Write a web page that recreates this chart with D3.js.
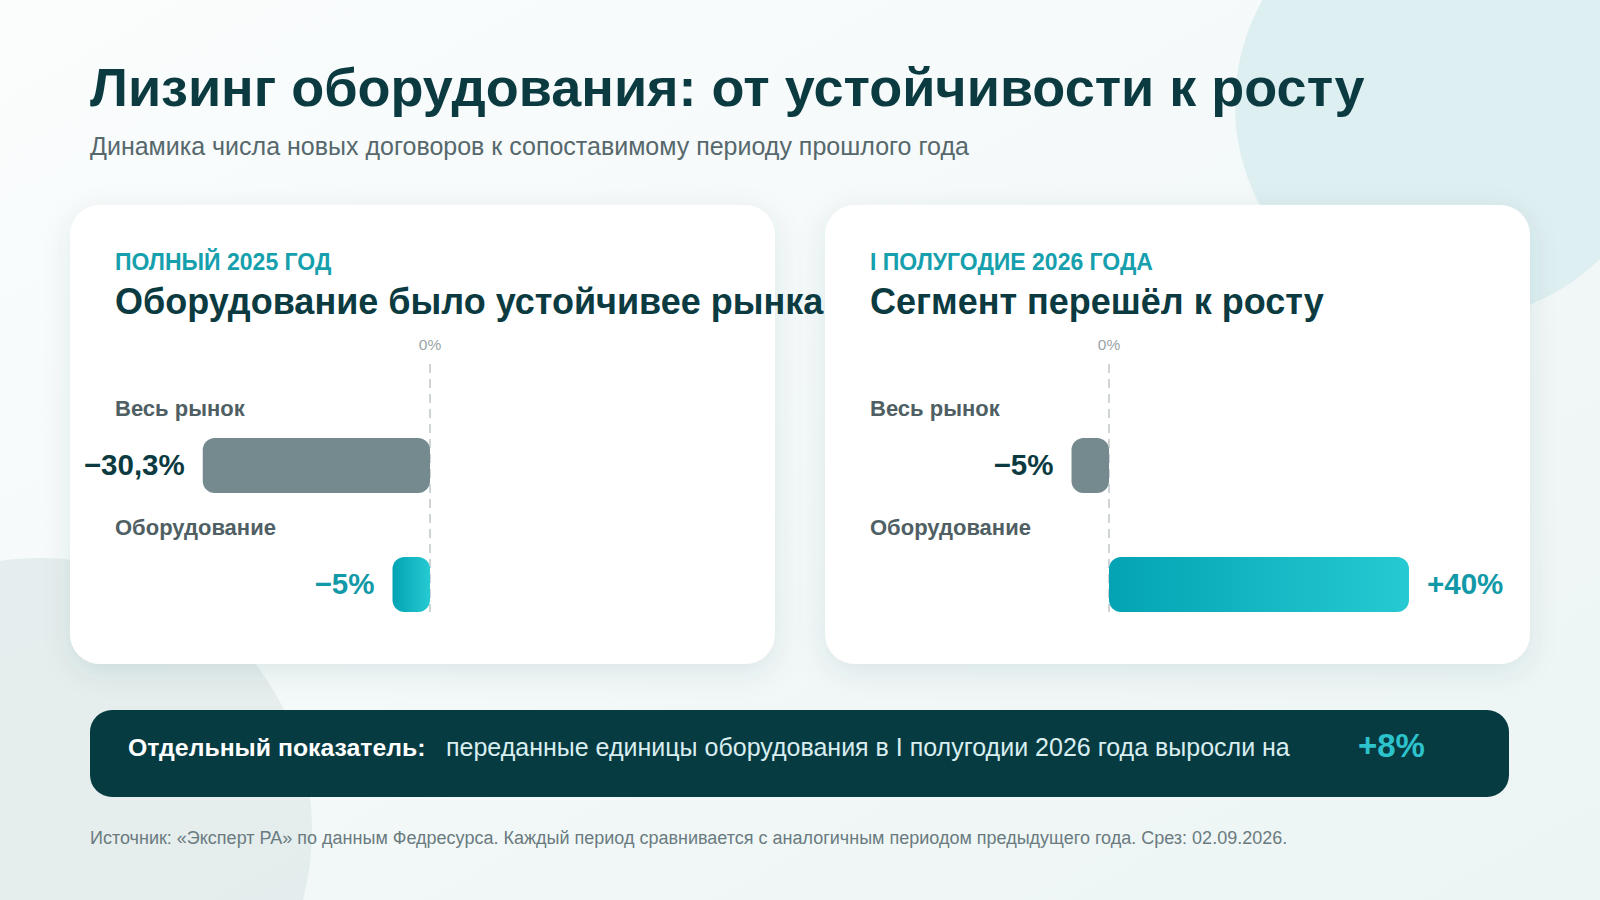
<!DOCTYPE html>
<html><head><meta charset="utf-8">
<script src="https://cdn.jsdelivr.net/npm/d3@7"></script>
<style>
html,body{margin:0;padding:0;background:#f3f8f8;}
svg{display:block;font-family:"Liberation Sans",Arial,sans-serif;}
</style></head>
<body><svg id="c" width="1600" height="900"></svg>
<script>
// ---- data ----
const title = "Лизинг оборудования: от устойчивости к росту";
const subtitle = "Динамика числа новых договоров к сопоставимому периоду прошлого года";
const panelPeriods = ["ПОЛНЫЙ 2025 ГОД", "I ПОЛУГОДИЕ 2026 ГОДА"];
const panelHeadings = ["Оборудование было устойчивее рынка", "Сегмент перешёл к росту"];
const categories = ["Весь рынок", "Оборудование"];
const values2025 = [-30.3, -5];
const values2026H1 = [-5, 40];
const zeroTickLabel = ["0%"];
const bannerLead = "Отдельный показатель:";
const bannerText = "переданные единицы оборудования в I полугодии 2026 года выросли на";
const bannerValue = [8];
const source = "Источник: «Эксперт РА» по данным Федресурса. Каждый период сравнивается с аналогичным периодом предыдущего года. Срез: 02.09.2026.";

const fmt = v => (v < 0 ? "\u2212" : "+") + String(Math.abs(v)).replace(".", ",") + "%";

const svg = d3.select("#c");
const defs = svg.append("defs");

// background
const bg = defs.append("linearGradient").attr("id","bg").attr("x1",0).attr("y1",0).attr("x2",1).attr("y2",1);
bg.append("stop").attr("offset",0).attr("stop-color","#fbfdfd");
bg.append("stop").attr("offset",1).attr("stop-color","#ecf4f4");
svg.append("rect").attr("width",1600).attr("height",900).attr("fill","url(#bg)");
svg.append("circle").attr("cx",1450).attr("cy",105).attr("r",215).attr("fill","#dcedef").attr("opacity",0.9);
svg.append("circle").attr("cx",40).attr("cy",830).attr("r",272).attr("fill","#e2ebeb").attr("opacity",0.85);

// shadow filter
const f = defs.append("filter").attr("id","sh").attr("x","-20%").attr("y","-20%").attr("width","140%").attr("height","150%");
f.append("feDropShadow").attr("dx",0).attr("dy",8).attr("stdDeviation",14).attr("flood-color","#0b4a50").attr("flood-opacity",0.10);

// teal gradient
const tg = defs.append("linearGradient").attr("id","teal").attr("x1",0).attr("y1",0).attr("x2",1).attr("y2",0);
tg.append("stop").attr("offset",0).attr("stop-color","#03a3b3");
tg.append("stop").attr("offset",1).attr("stop-color","#25cad2");

// title
svg.append("text").attr("x",90).attr("y",106).attr("font-size",54).attr("font-weight",700)
  .attr("fill","#0b3b41").text(title);
svg.append("text").attr("x",90).attr("y",155).attr("font-size",25)
  .attr("fill","#56686c").text(subtitle);

// panels
const panelX = [70, 825];
const zeroX = [430, 1109];
const allValues = [values2025, values2026H1];
const cardY = 205, cardW = 705, cardH = 459;

const yBand = d3.scaleBand().domain(categories).range([382, 620]).paddingInner(0);

panelX.forEach((px, i) => {
  const g = svg.append("g");
  g.append("rect").attr("x",px).attr("y",cardY).attr("width",cardW).attr("height",cardH)
    .attr("rx",30).attr("fill","#ffffff").attr("filter","url(#sh)");
  g.append("text").attr("x",px+45).attr("y",270).attr("font-size",23).attr("font-weight",700)
    .attr("fill","#16a0ad").text(panelPeriods[i]);
  g.append("text").attr("x",px+45).attr("y",314).attr("font-size",36).attr("font-weight",700)
    .attr("fill","#0b3b41").text(panelHeadings[i]);

  const x = d3.scaleLinear().domain([-40, 40]).range([zeroX[i]-300, zeroX[i]+300]);

  g.append("text").attr("x",x(0)).attr("y",350).attr("text-anchor","middle").attr("font-size",15.5)
    .attr("fill","#9aa5a7").text(zeroTickLabel[0]);
  g.append("line").attr("x1",x(0)).attr("x2",x(0)).attr("y1",364).attr("y2",612)
    .attr("stroke","#c4cbcc").attr("stroke-width",1.6).attr("stroke-dasharray","9,6");

  const vals = allValues[i];
  categories.forEach((c, j) => {
    const y0 = yBand(c);
    g.append("text").attr("x",px+45).attr("y",y0+34).attr("font-size",22).attr("font-weight",700)
      .attr("fill","#4f5f63").text(c);
    const v = vals[j];
    const isEquip = j === 1;
    g.append("rect")
      .attr("x", Math.min(x(0), x(v))).attr("y", y0+56)
      .attr("width", Math.abs(x(v)-x(0))).attr("height", 55)
      .attr("rx",12)
      .attr("fill", isEquip ? "url(#teal)" : "#748a8e");
    const lx = v < 0 ? x(v) - 18 : x(v) + 18;
    g.append("text").attr("x",lx).attr("y",y0+93)
      .attr("text-anchor", v < 0 ? "end" : "start")
      .attr("font-size",29.5).attr("font-weight",700)
      .attr("fill", isEquip ? "#1199a7" : "#0b3b41").text(fmt(v));
  });
});

// banner
svg.append("rect").attr("x",90).attr("y",710).attr("width",1419).attr("height",87).attr("rx",22)
  .attr("fill","#073b42");
svg.append("text").attr("x",128).attr("y",756).attr("font-size",24.8).attr("font-weight",700)
  .attr("fill","#ffffff").text(bannerLead);
svg.append("text").attr("x",446).attr("y",756).attr("font-size",25)
  .attr("fill","#d9eef0").text(bannerText);
svg.append("text").attr("x",1358).attr("y",757).attr("font-size",33).attr("font-weight",700)
  .attr("fill","#2cc3cc").text("+" + bannerValue[0] + "%");

svg.append("text").attr("x",90).attr("y",844).attr("font-size",18)
  .attr("fill","#6a7b7f").text(source);
</script></body></html>
